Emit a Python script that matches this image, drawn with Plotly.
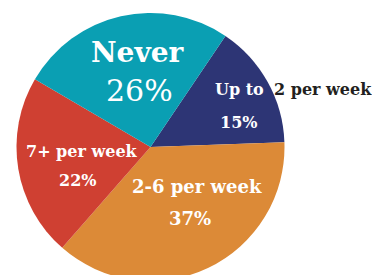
import plotly.graph_objects as go

categories = ["Up to 2 per week", "2-6 per week", "7+ per week", "Never"]
values = [15, 37, 22, 26]
colors = ["#2d3575", "#dc8a37", "#cf4032", "#0a9fb3"]

W, H = 380, 275
OFF = 8  # page body margin offset

def px(x):
    return (x - OFF) / W

def py(y):
    return 1 - (y - OFF) / H

# pie: centre (150.5, 147), radius 134 in page pixels
cx, cy, r = 150.5, 147, 134
fig = go.Figure(go.Pie(
    labels=categories,
    values=values,
    sort=False,
    direction="clockwise",
    rotation=34,
    marker=dict(colors=colors, line=dict(width=0)),
    textinfo="none",
    hoverinfo="skip",
    showlegend=False,
    domain=dict(x=[px(cx - r), px(cx + r)], y=[py(cy + r), py(cy - r)]),
))

serif = "DejaVu Serif"
white = "#ffffff"
dark = "#231f20"

ann = []
def add(text, x, y, size, color=white, bold=True):
    ann.append(dict(text=text, x=px(x), y=py(y), xref="paper", yref="paper",
                    showarrow=False, xanchor="center", yanchor="middle",
                    font=dict(family=serif, size=size, color=color,
                              weight="bold" if bold else "normal")))

# Never
add(categories[3], 137, 52, 28)
add(f"{values[3]}%", 139, 91, 30, bold=False)
# Up to 2 per week
add("Up to", 239, 90, 16)
add("2 per week", 323, 90, 16, color=dark)
add(f"{values[0]}%", 238, 122, 16)
# 7+ per week
add(categories[2], 82, 151, 16)
add(f"{values[2]}%", 77, 180, 16)
# 2-6 per week
add(categories[1], 197, 186, 18)
add(f"{values[1]}%", 190, 218, 18)

fig.update_layout(
    width=W, height=H,
    margin=dict(l=0, r=0, t=0, b=0),
    paper_bgcolor="white",
    plot_bgcolor="white",
    annotations=ann,
)

fig.write_html("out.html")
